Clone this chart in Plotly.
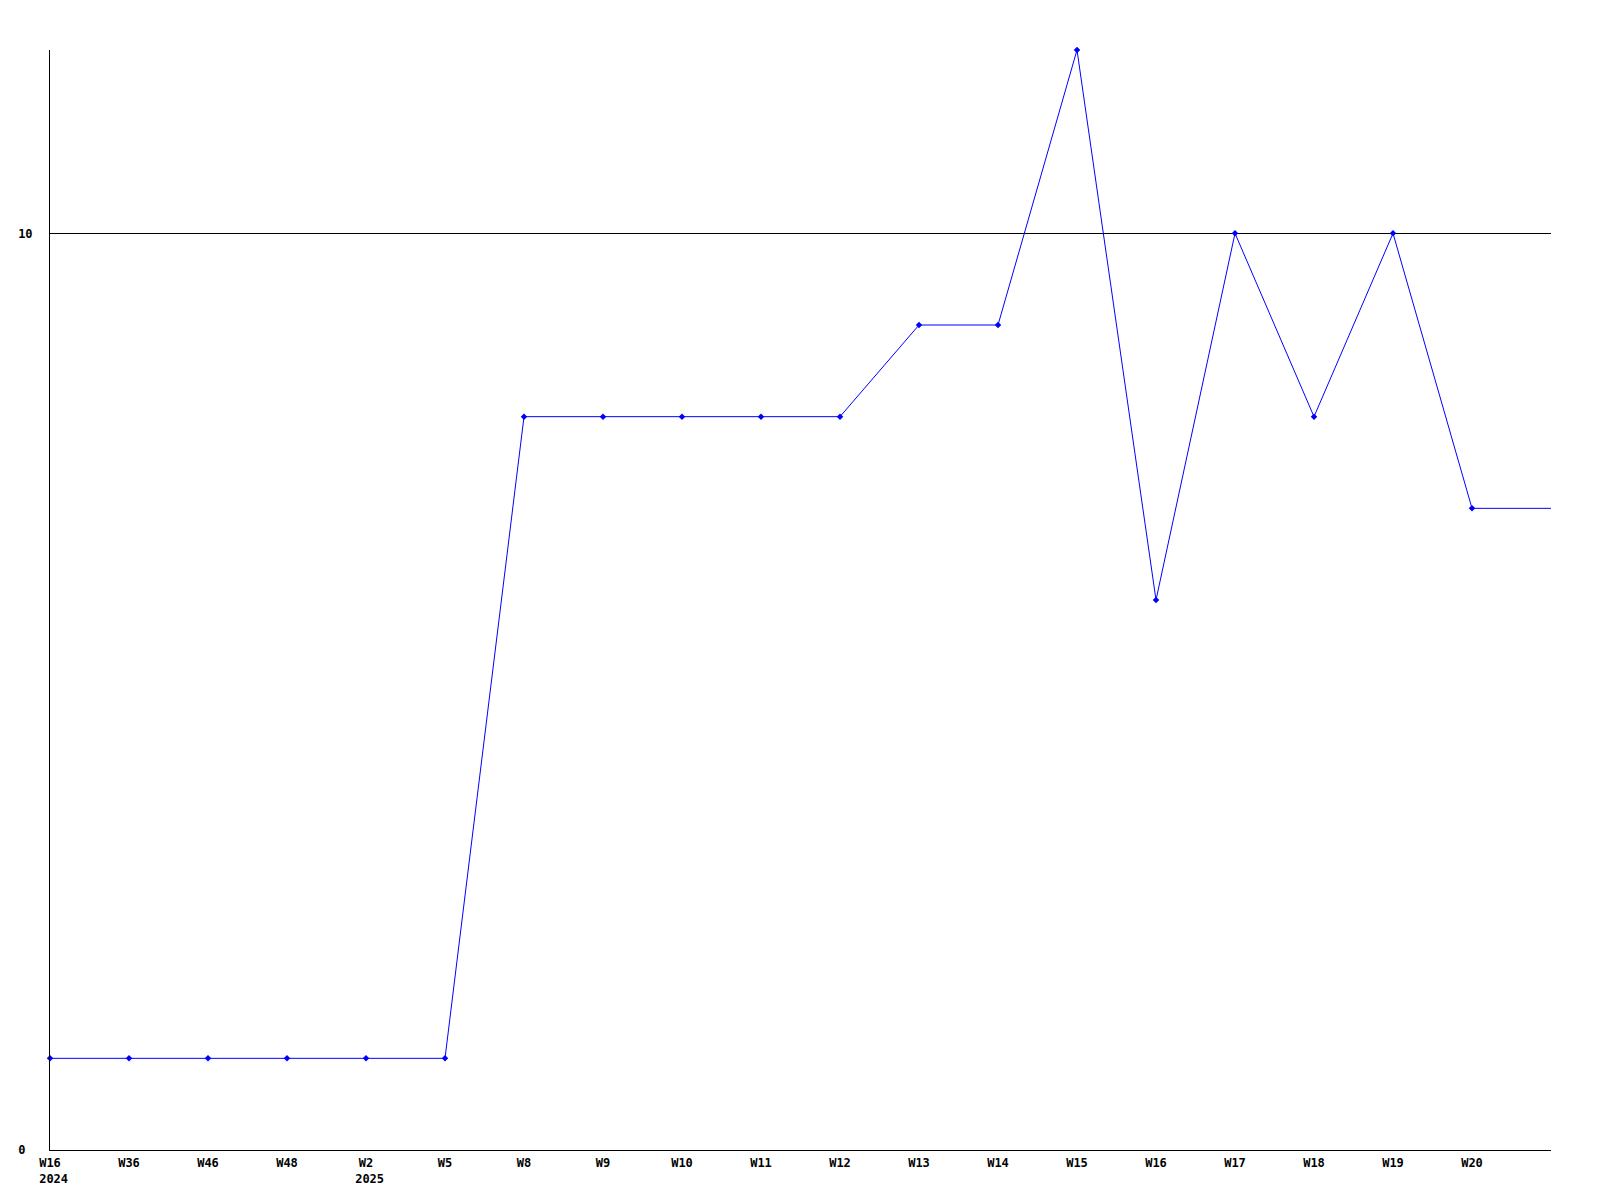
import plotly.graph_objects as go

week_labels = ["W16<br>\u00a02024", "W36", "W46", "W48", "W2<br>\u00a02025", "W5", "W8", "W9", "W10",
               "W11", "W12", "W13", "W14", "W15", "W16", "W17", "W18", "W19", "W20"]
values = [1, 1, 1, 1, 1, 1, 8, 8, 8, 8, 8, 9, 9, 12, 6, 10, 8, 10, 7]
y_ticks = [0, 10]
y_tick_labels = ["0\u00a0", "10"]

x = list(range(len(values)))

fig = go.Figure()
fig.add_trace(go.Scatter(
    x=x, y=values, mode="lines+markers",
    line=dict(color="#0000FF", width=1),
    marker=dict(symbol="diamond", size=5, color="#0000FF"),
    hoverinfo="skip", showlegend=False, cliponaxis=False,
))
# continuation of the last value to the right edge
fig.add_trace(go.Scatter(
    x=[x[-1], x[-1] + 1], y=[values[-1], values[-1]], mode="lines",
    line=dict(color="#0000FF", width=1),
    hoverinfo="skip", showlegend=False,
))

font = dict(family="DejaVu Sans Mono", size=12, color="black", weight="bold")

# page body has an 8px margin, so the figure is sized/offset to compensate
fig.update_layout(
    width=1592, height=1192,
    margin=dict(l=42, r=49, t=42, b=50),
    paper_bgcolor="white", plot_bgcolor="white",
    showlegend=False,
)
fig.update_xaxes(
    range=[0, len(values)], tickvals=x, ticktext=week_labels,
    showgrid=False, zeroline=False, showline=True, linecolor="black", linewidth=1,
    ticks="outside", ticklen=2, tickcolor="white", tickfont=font, automargin=False,
)
fig.update_yaxes(
    range=[0, 12], tickvals=y_ticks, ticktext=y_tick_labels,
    showgrid=True, gridcolor="black", gridwidth=1, zeroline=False,
    showline=True, linecolor="black", linewidth=1,
    ticks="outside", ticklen=14, tickcolor="white", tickfont=font, automargin=False,
)

fig.write_html("out.html")
